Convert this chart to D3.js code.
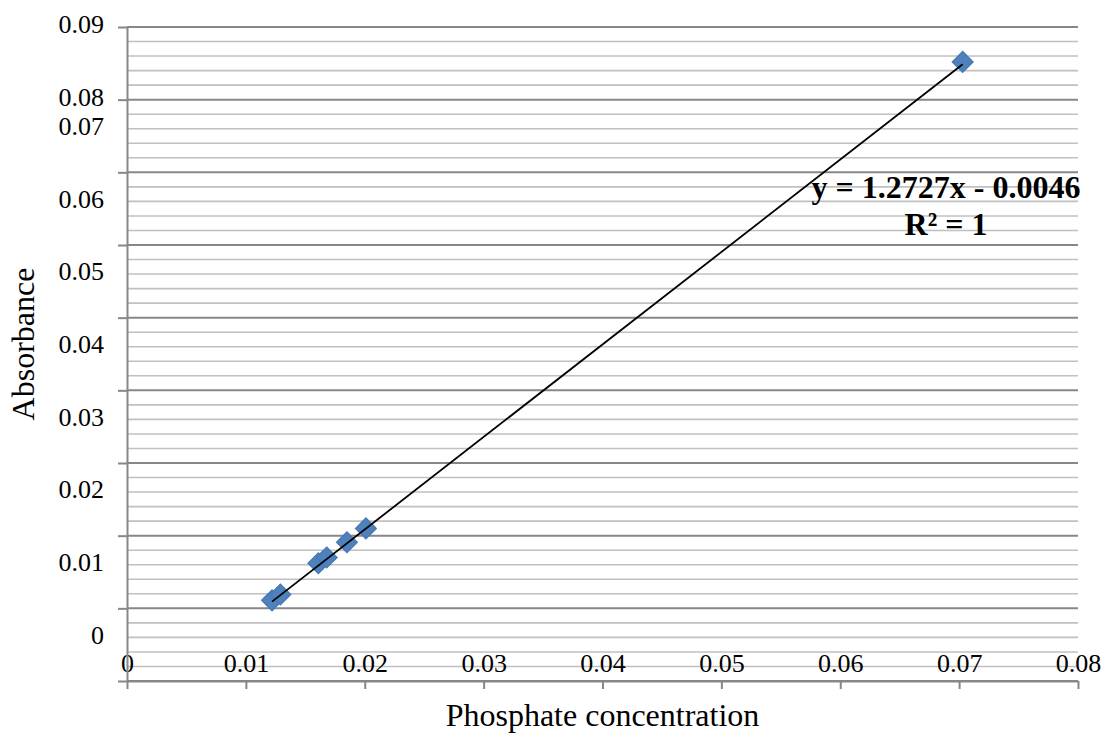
<!DOCTYPE html>
<html>
<head>
<meta charset="utf-8">
<script src="https://cdn.jsdelivr.net/npm/d3@7"></script>
<style>
  body { margin: 0; background: #fff; }
  svg text { font-family: "Liberation Serif", "Times New Roman", serif; }
</style>
</head>
<body>
<div id="chart"></div>
<script>
// Data
const concentration = [0.0122, 0.0129, 0.0161, 0.0168, 0.0185, 0.0201, 0.0703];
const absorbance = [0.0111, 0.0119, 0.0162, 0.0170, 0.0191, 0.0210, 0.0852];
const xTicks = [0, 0.01, 0.02, 0.03, 0.04, 0.05, 0.06, 0.07, 0.08];
const yTicks = [0, 0.01, 0.02, 0.03, 0.04, 0.05, 0.06, 0.07, 0.08, 0.09];
const trendSlope = 1.2727;
const trendIntercept = -0.0046;
const equationLines = ["y = 1.2727x - 0.0046", "R² = 1"];

const data = concentration.map((c, i) => ({ x: c, y: absorbance[i] }));

// Chart dimensions and margins
const width = 1107;
const height = 734;
const marginTop = 27;
const marginRight = 29;
const marginBottom = 53;
const marginLeft = 127;
const serif = "Liberation Serif, Times New Roman, serif";

const x = d3.scaleLinear()
    .domain([0, 0.08])
    .range([marginLeft, width - marginRight]);

const y = d3.scaleLinear()
    .domain([0, 0.09])
    .range([height - marginBottom, marginTop]);

const svg = d3.select("#chart")
  .append("svg")
    .attr("width", width)
    .attr("height", height)
    .attr("viewBox", [0, 0, width, height]);

// Minor gridlines, then major ones on top
const minorTicks = d3.range(0, 0.0901, 0.002).filter(v => Math.abs(v / 0.01 - Math.round(v / 0.01)) > 1e-6);
svg.append("g")
  .selectAll("line")
  .data(minorTicks)
  .join("line")
    .attr("x1", marginLeft)
    .attr("x2", width - marginRight)
    .attr("y1", d => y(d))
    .attr("y2", d => y(d))
    .attr("stroke", "#c0c0c0")
    .attr("stroke-width", 1.6);

svg.append("g")
  .selectAll("line")
  .data(yTicks)
  .join("line")
    .attr("x1", marginLeft)
    .attr("x2", width - marginRight)
    .attr("y1", d => y(d))
    .attr("y2", d => y(d))
    .attr("stroke", "#878787")
    .attr("stroke-width", 2);

const fmt = d => d === 0 ? "0" : d3.format(".2f")(d);

// x-axis (labels sit above the axis line, as in the source)
svg.append("g")
    .attr("transform", `translate(0,${y(0)})`)
    .call(d3.axisBottom(x).tickValues(xTicks).tickSize(8).tickSizeOuter(0).tickFormat(fmt))
    .attr("font-family", serif)
    .attr("font-size", 26)
    .call(g => g.select(".domain").attr("stroke", "#878787").attr("stroke-width", 2))
    .call(g => g.selectAll(".tick line").attr("stroke", "#878787").attr("stroke-width", 2))
    .call(g => g.selectAll(".tick text")
        .attr("y", -9)
        .attr("dy", 0)
        .attr("fill", "#000"));

// y-axis (lower labels drift upward in the source)
svg.append("g")
    .attr("transform", `translate(${marginLeft},0)`)
    .call(d3.axisLeft(y).tickValues(yTicks).tickSize(9).tickSizeOuter(0).tickFormat(fmt))
    .attr("font-family", serif)
    .attr("font-size", 26)
    .call(g => g.select(".domain").attr("stroke", "#878787").attr("stroke-width", 2))
    .call(g => g.selectAll(".tick line").attr("stroke", "#878787").attr("stroke-width", 2))
    .call(g => g.selectAll(".tick text")
        .attr("x", -23)
        .attr("dy", 0)
        .attr("y", d => d >= 0.075 ? 5.5 : -38)
        .attr("fill", "#000"));

// Axis titles
svg.append("text")
    .attr("transform", `translate(34,${(marginTop + height - marginBottom) / 2 - 10}) rotate(-90)`)
    .attr("text-anchor", "middle")
    .attr("font-size", 32)
    .attr("fill", "#000")
    .text("Absorbance");

svg.append("text")
    .attr("x", (marginLeft + width - marginRight) / 2)
    .attr("y", 726)
    .attr("text-anchor", "middle")
    .attr("font-size", 32)
    .attr("fill", "#000")
    .text("Phosphate concentration");

// Diamond markers (square-ish diamond, Excel style)
const excelDiamond = {
  draw(context, size) {
    const r = Math.sqrt(size) / 2;
    context.moveTo(0, -r);
    context.lineTo(r, 0);
    context.lineTo(0, r);
    context.lineTo(-r, 0);
    context.closePath();
  }
};
const diamond = d3.symbol().type(excelDiamond).size(420);
svg.append("g")
  .selectAll("path")
  .data(data)
  .join("path")
    .attr("transform", d => `translate(${x(d.x)},${y(d.y)})`)
    .attr("d", diamond)
    .attr("fill", "#4f81bd")
    .attr("stroke", "#4a7ab4")
    .attr("stroke-width", 1.5);

// Linear trendline from the fitted equation, drawn over the markers
const [xMin, xMax] = d3.extent(concentration);
const trend = [xMin, xMax].map(v => ({ x: v, y: trendSlope * v + trendIntercept }));
svg.append("path")
    .datum(trend)
    .attr("fill", "none")
    .attr("stroke", "#000")
    .attr("stroke-width", 1.8)
    .attr("d", d3.line().x(d => x(d.x)).y(d => y(d.y)));

// Equation label
svg.append("text")
    .attr("x", x(0.0689))
    .attr("y", y(0.0664))
    .attr("text-anchor", "middle")
    .attr("font-size", 32)
    .attr("font-weight", "bold")
    .attr("fill", "#000")
    .selectAll("tspan")
    .data(equationLines)
    .join("tspan")
      .attr("x", x(0.0689))
      .attr("dy", (d, i) => i === 0 ? 0 : 37)
      .text(d => d);
</script>
</body>
</html>
